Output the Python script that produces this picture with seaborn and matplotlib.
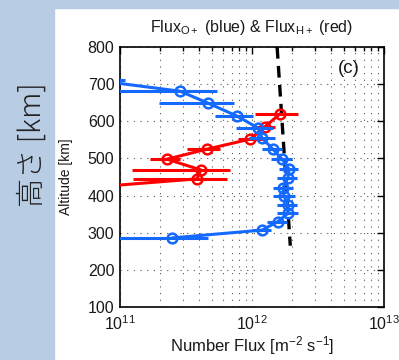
import numpy as np
import pandas as pd
import matplotlib
matplotlib.use("Agg")
import matplotlib.pyplot as plt
import matplotlib.ticker as mticker
from matplotlib.patches import Rectangle
import seaborn as sns

# ---- data ----
blue_alt = [712, 681, 649, 614, 582, 555, 525, 498, 471, 447, 421, 398, 375, 352, 330, 307, 286]
blue_flux = [6e10, 2.85e11, 4.64e11, 7.7e11, 1.11e12, 1.19e12, 1.44e12, 1.69e12, 1.91e12, 1.87e12,
             1.72e12, 1.75e12, 1.87e12, 1.87e12, 1.57e12, 1.19e12, 2.48e11]
blue_lo = [3e10, 8e10, 1.97e11, 5.25e11, 7.6e11, 9.5e11, 1.2e12, 1.4e12, 1.6e12, 1.55e12,
           1.45e12, 1.45e12, 1.55e12, 1.55e12, 1.3e12, 1.0e12, 8e10]
blue_hi = [1.09e11, 5.4e11, 7.3e11, 1.02e12, 1.44e12, 1.5e12, 1.7e12, 2.0e12, 2.25e12, 2.2e12,
           2.05e12, 2.1e12, 2.2e12, 2.25e12, 1.85e12, 1.4e12, 4.64e11]

red_alt = [620, 585, 552, 525, 498, 469, 445, 420]
red_flux = [1.63e12, 1.25e12, 9.7e11, 4.56e11, 2.27e11, 4.1e11, 3.83e11, 5e10]
red_lo = [1.05e12, 1.0e12, 7.8e11, 3.2e11, 1.69e11, 1.23e11, 1.25e11, 3e10]
red_hi = [2.23e12, 1.5e12, 1.25e12, 5.7e11, 2.85e11, 6.8e11, 6.46e11, 8e10]

model_alt = [800, 265]
model_flux = [1.55e12, 1.95e12]

xticks = [1e11, 1e12, 1e13]
yticks = [100, 200, 300, 400, 500, 600, 700, 800]

BLUE = "#1469ff"
RED = "#ff0000"
TXT = "#1a1a1a"

sns.set_theme(style="white")
plt.rcParams["font.family"] = ["Liberation Sans", "DejaVu Sans"]
plt.rcParams["mathtext.fontset"] = "custom"
plt.rcParams["mathtext.rm"] = "Liberation Sans"
plt.rcParams["mathtext.it"] = "Liberation Sans"

fig = plt.figure(figsize=(3.99, 3.6), dpi=100, facecolor="white")
# light-blue slide background strips
fig.patches.append(Rectangle((0, 0), 54 / 399, 1, transform=fig.transFigure,
                             color="#b8cce4", zorder=0))
fig.patches.append(Rectangle((0, 1 - 8 / 360), 1, 8 / 360, transform=fig.transFigure,
                             color="#b8cce4", zorder=0))

ax = fig.add_axes([120 / 399, 1 - 307 / 360, 264 / 399, 260 / 360])
ax.set_xscale("log")
ax.set_xlim(1e11, 1e13)
ax.set_ylim(100, 800)

# model dashed line
sns.lineplot(x=model_flux, y=model_alt, ax=ax, color="black", lw=2.4, sort=False,
             estimator=None, dashes=False, zorder=2)
ax.lines[-1].set_dashes((3.5, 2.2))

# red series
ax.hlines(red_alt, red_lo, red_hi, color=RED, lw=2.2, zorder=3)
sns.lineplot(x=red_flux, y=red_alt, ax=ax, color=RED, lw=2.2, sort=False, estimator=None,
             marker="o", markersize=7, markerfacecolor="none", markeredgecolor=RED,
             markeredgewidth=1.8, zorder=3)

# blue series
ax.hlines(blue_alt, blue_lo, blue_hi, color=BLUE, lw=2.2, zorder=4)
sns.lineplot(x=blue_flux, y=blue_alt, ax=ax, color=BLUE, lw=2.2, sort=False, estimator=None,
             marker="o", markersize=7, markerfacecolor="none", markeredgecolor=BLUE,
             markeredgewidth=1.8, zorder=4)

ax.set_xticks(xticks)
ax.xaxis.set_major_formatter(mticker.LogFormatterMathtext())
ax.xaxis.set_minor_locator(mticker.LogLocator(base=10, subs=np.arange(2, 10), numticks=20))
ax.xaxis.set_minor_formatter(mticker.NullFormatter())
ax.set_yticks(yticks)

ax.grid(True, which="major", axis="both", color="#555555", lw=0.8, linestyle=(0, (1, 5)))
ax.grid(True, which="minor", axis="x", color="#555555", lw=0.8, linestyle=(0, (1, 5)))
ax.set_axisbelow(True)

ax.tick_params(which="both", direction="in", top=True, right=True, colors="black",
               labelcolor=TXT, labelsize=11.5, width=1)
ax.tick_params(which="major", length=5)
ax.tick_params(which="minor", length=3)
ax.tick_params(axis="x", which="major", pad=5)
ax.tick_params(axis="y", which="major", pad=4)
for s in ax.spines.values():
    s.set_color("black")
    s.set_linewidth(1.2)

ax.set_title(r"Flux$_{\mathrm{O+}}$ (blue) & Flux$_{\mathrm{H+}}$ (red)", fontsize=11.5,
             pad=11, color=TXT)
ax.set_xlabel(r"Number Flux [m$^{-2}$ s$^{-1}$]", fontsize=12, labelpad=1, color=TXT)
ax.set_ylabel("Altitude [km]", fontsize=10, color=TXT)
ax.yaxis.set_label_coords(-0.178, 0.5)
ax.text(0.867, 0.919, "(c)", transform=ax.transAxes, fontsize=13.5, ha="center",
        va="center", color=TXT)

fig.text(32 / 399, 1 - 145 / 360, "高さ [km]", rotation=90, ha="center", va="center",
         fontsize=21, color="#222222", fontweight="light",
         family=["Noto Sans CJK JP", "DejaVu Sans"])

fig.savefig("out.png", dpi=100, facecolor=fig.get_facecolor())
